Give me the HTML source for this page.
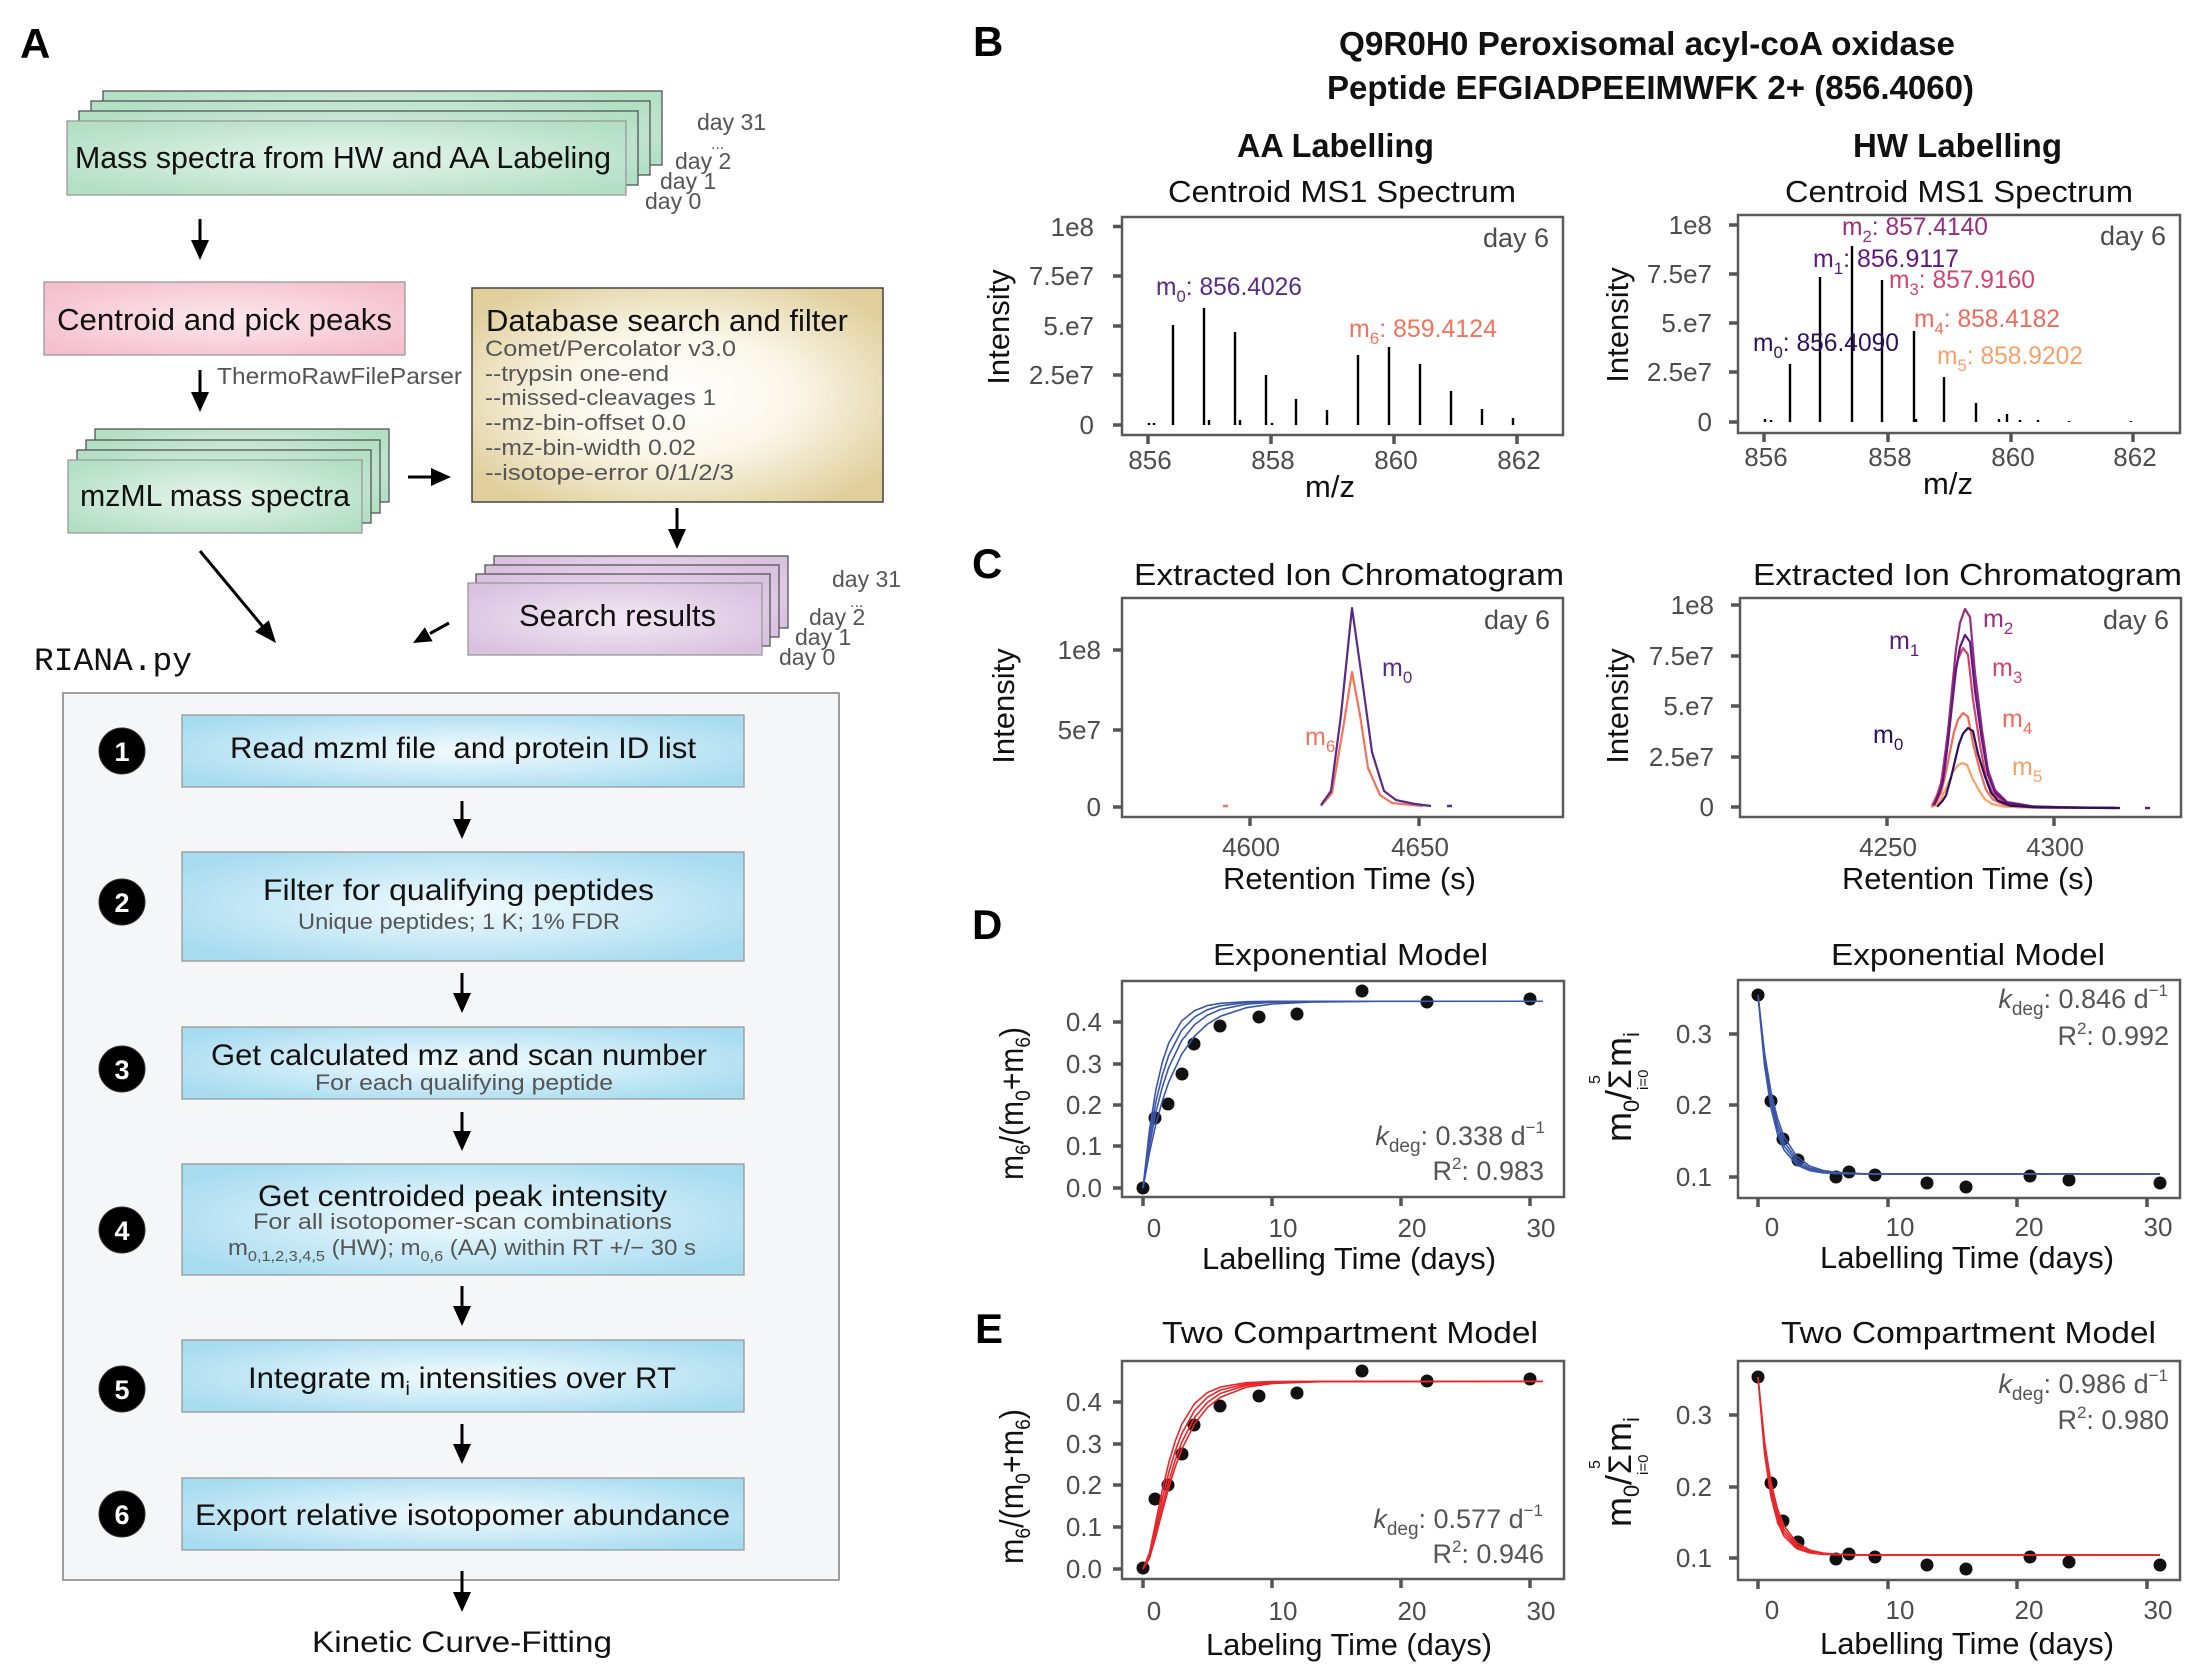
<!DOCTYPE html>
<html><head><meta charset="utf-8"><style>html,body{margin:0;padding:0;background:#fff}svg{display:block}</style></head>
<body>
<svg xmlns="http://www.w3.org/2000/svg" width="2191" height="1676" viewBox="0 0 2191 1676" font-family="'Liberation Sans', Arial, sans-serif">
<defs>
<radialGradient id="gG" cx="0.5" cy="0.5" r="0.62"><stop offset="0" stop-color="#e6f5ec"/><stop offset="1" stop-color="#b3dfc5"/></radialGradient>
<radialGradient id="gP" cx="0.5" cy="0.5" r="0.62"><stop offset="0" stop-color="#fce8ee"/><stop offset="1" stop-color="#f5bfce"/></radialGradient>
<radialGradient id="gT" cx="0.5" cy="0.5" r="0.62"><stop offset="0" stop-color="#ffffff"/><stop offset="0.45" stop-color="#fbf7ea"/><stop offset="1" stop-color="#e0cf9c"/></radialGradient>
<radialGradient id="gV" cx="0.5" cy="0.5" r="0.62"><stop offset="0" stop-color="#f3e9f5"/><stop offset="1" stop-color="#d9c1e0"/></radialGradient>
<radialGradient id="gB" cx="0.5" cy="0.5" r="0.62"><stop offset="0" stop-color="#f3fbfe"/><stop offset="1" stop-color="#a6dbf0"/></radialGradient>
</defs>
<rect x="0" y="0" width="2191" height="1676" fill="#fff"/>

<!-- Panel letters -->
<g font-weight="bold" font-size="42" fill="#000">
<text x="20" y="58">A</text>
<text x="973" y="56">B</text>
<text x="972" y="578">C</text>
<text x="972" y="939">D</text>
<text x="975" y="1343">E</text>
</g>

<!-- ===== PANEL A ===== -->
<g stroke="#555" stroke-width="1.3" fill="url(#gG)">
<rect x="103" y="91" width="559" height="74"/>
<rect x="91" y="101" width="559" height="74"/>
<rect x="79" y="111" width="559" height="74"/>
<rect x="67" y="121" width="559" height="74" stroke="#999"/>
</g>
<text x="75" y="168" font-size="31" textLength="536" lengthAdjust="spacingAndGlyphs" fill="#111">Mass spectra from HW and AA Labeling</text>
<g font-size="23" fill="#555">
<text x="697" y="130">day 31</text>
<text x="711" y="149" font-size="16">...</text>
<text x="675" y="169">day 2</text>
<text x="660" y="189">day 1</text>
<text x="645" y="209">day 0</text>
</g>

<rect x="44" y="282" width="361" height="73" fill="url(#gP)" stroke="#999" stroke-width="1.3"/>
<text x="57" y="330" font-size="31" textLength="335" lengthAdjust="spacingAndGlyphs" fill="#111">Centroid and pick peaks</text>
<text x="217" y="384" font-size="23" fill="#555" textLength="245" lengthAdjust="spacingAndGlyphs">ThermoRawFileParser</text>

<rect x="472" y="288" width="411" height="214" fill="url(#gT)" stroke="#444" stroke-width="1.5"/>
<text x="486" y="331" font-size="31" textLength="362" lengthAdjust="spacingAndGlyphs" fill="#111">Database search and filter</text>
<g font-size="22" fill="#555">
<text x="485" y="356" textLength="251" lengthAdjust="spacingAndGlyphs">Comet/Percolator v3.0</text>
<text x="485" y="381" textLength="184" lengthAdjust="spacingAndGlyphs">--trypsin one-end</text>
<text x="485" y="405" textLength="231" lengthAdjust="spacingAndGlyphs">--missed-cleavages 1</text>
<text x="485" y="430" textLength="201" lengthAdjust="spacingAndGlyphs">--mz-bin-offset 0.0</text>
<text x="485" y="455" textLength="211" lengthAdjust="spacingAndGlyphs">--mz-bin-width 0.02</text>
<text x="485" y="480" textLength="249" lengthAdjust="spacingAndGlyphs">--isotope-error 0/1/2/3</text>
</g>

<g stroke="#555" stroke-width="1.3" fill="url(#gG)">
<rect x="95" y="429" width="294" height="73"/>
<rect x="86" y="440" width="294" height="73"/>
<rect x="77" y="450" width="294" height="73"/>
<rect x="68" y="460" width="294" height="73" stroke="#999"/>
</g>
<text x="80" y="506" font-size="31" textLength="270" lengthAdjust="spacingAndGlyphs" fill="#111">mzML mass spectra</text>

<g stroke="#555" stroke-width="1.3" fill="url(#gV)">
<rect x="494" y="556" width="294" height="72"/>
<rect x="485" y="565" width="294" height="72"/>
<rect x="476" y="574" width="294" height="72"/>
<rect x="468" y="583" width="294" height="72" stroke="#999"/>
</g>
<text x="519" y="626" font-size="31" textLength="197" lengthAdjust="spacingAndGlyphs" fill="#111">Search results</text>
<g font-size="23" fill="#555">
<text x="832" y="587">day 31</text>
<text x="850" y="607" font-size="16">...</text>
<text x="809" y="625">day 2</text>
<text x="795" y="645">day 1</text>
<text x="779" y="665">day 0</text>
</g>

<text x="34" y="670" font-family="'Liberation Mono', monospace" font-size="32" textLength="158" lengthAdjust="spacingAndGlyphs" fill="#111">RIANA.py</text>

<!-- arrows top part -->
<g stroke="#000" stroke-width="3" fill="none">
<line x1="200" y1="219" x2="200" y2="242"/>
<line x1="200" y1="370" x2="200" y2="394"/>
<line x1="408" y1="477" x2="433" y2="477"/>
<line x1="677" y1="508" x2="677" y2="531"/>
<line x1="200" y1="551" x2="264" y2="628"/>
<line x1="449" y1="623" x2="430" y2="633.5"/>
</g>
<g fill="#000">
<polygon points="191,240 209,240 200,260"/>
<polygon points="191,392 209,392 200,412"/>
<polygon points="431,468 431,486 451,477"/>
<polygon points="668,529 686,529 677,549"/>
<polygon points="255.1,631.7 268.9,620.3 276,643"/>
<polygon points="424.8,627.3 432.6,641.3 413,643"/>
</g>

<!-- RIANA box -->
<rect x="63" y="693" width="776" height="887" fill="#f4f6f7" stroke="#888" stroke-width="1.6"/>
<g fill="url(#gB)" stroke="#999" stroke-width="1.3">
<rect x="182" y="715" width="562" height="72"/>
<rect x="182" y="852" width="562" height="109"/>
<rect x="182" y="1027" width="562" height="72"/>
<rect x="182" y="1164" width="562" height="111"/>
<rect x="182" y="1340" width="562" height="72"/>
<rect x="182" y="1478" width="562" height="72"/>
</g>
<g fill="#000" stroke="#333" stroke-width="1">
<circle cx="122" cy="751" r="23"/>
<circle cx="122" cy="902" r="23"/>
<circle cx="122" cy="1069" r="23"/>
<circle cx="122" cy="1230" r="23"/>
<circle cx="122" cy="1389" r="23"/>
<circle cx="122" cy="1514" r="23"/>
</g>
<g fill="#fff" font-weight="bold" font-size="27" text-anchor="middle">
<text x="122" y="761">1</text>
<text x="122" y="912">2</text>
<text x="122" y="1079">3</text>
<text x="122" y="1240">4</text>
<text x="122" y="1399">5</text>
<text x="122" y="1524">6</text>
</g>
<g font-size="30" fill="#111">
<text x="230" y="758" textLength="466" lengthAdjust="spacingAndGlyphs">Read mzml file&#160; and protein ID list</text>
<text x="263" y="900" textLength="391" lengthAdjust="spacingAndGlyphs">Filter for qualifying peptides</text>
<text x="211" y="1065" textLength="496" lengthAdjust="spacingAndGlyphs">Get calculated mz and scan number</text>
<text x="258" y="1206" textLength="409" lengthAdjust="spacingAndGlyphs">Get centroided peak intensity</text>
<text x="248" y="1388" textLength="428" lengthAdjust="spacingAndGlyphs">Integrate m<tspan font-size="19" dy="7">i</tspan><tspan dy="-7"> intensities over RT</tspan></text>
<text x="195" y="1525" textLength="535" lengthAdjust="spacingAndGlyphs">Export relative isotopomer abundance</text>
<text x="312" y="1652" textLength="300" lengthAdjust="spacingAndGlyphs">Kinetic Curve-Fitting</text>
</g>
<g font-size="22" fill="#555">
<text x="298" y="929" textLength="322" lengthAdjust="spacingAndGlyphs">Unique peptides; 1 K; 1% FDR</text>
<text x="315" y="1090" textLength="298" lengthAdjust="spacingAndGlyphs">For each qualifying peptide</text>
<text x="253" y="1229" textLength="419" lengthAdjust="spacingAndGlyphs">For all isotopomer-scan combinations</text>
<text x="228" y="1255" textLength="468" lengthAdjust="spacingAndGlyphs">m<tspan font-size="15" dy="6">0,1,2,3,4,5</tspan><tspan dy="-6"> (HW); m</tspan><tspan font-size="15" dy="6">0,6</tspan><tspan dy="-6"> (AA) within RT +/− 30 s</tspan></text>
</g>
<g stroke="#000" stroke-width="3">
<line x1="462" y1="801" x2="462" y2="821"/>
<line x1="462" y1="973" x2="462" y2="995"/>
<line x1="462" y1="1112" x2="462" y2="1133"/>
<line x1="462" y1="1286" x2="462" y2="1308"/>
<line x1="462" y1="1424" x2="462" y2="1446"/>
<line x1="462" y1="1571" x2="462" y2="1594"/>
</g>
<g fill="#000">
<polygon points="453,819 471,819 462,839"/>
<polygon points="453,993 471,993 462,1013"/>
<polygon points="453,1131 471,1131 462,1151"/>
<polygon points="453,1306 471,1306 462,1326"/>
<polygon points="453,1444 471,1444 462,1464"/>
<polygon points="453,1592 471,1592 462,1612"/>
</g>

<!-- ===== PANEL B ===== -->
<g font-weight="bold" font-size="33" fill="#111">
<text x="1339" y="55" textLength="616" lengthAdjust="spacingAndGlyphs">Q9R0H0 Peroxisomal acyl-coA oxidase</text>
<text x="1327" y="99" textLength="647" lengthAdjust="spacingAndGlyphs">Peptide EFGIADPEEIMWFK 2+ (856.4060)</text>
<text x="1237" y="157" textLength="197" lengthAdjust="spacingAndGlyphs">AA Labelling</text>
<text x="1853" y="157" textLength="209" lengthAdjust="spacingAndGlyphs">HW Labelling</text>
</g>
<g font-size="31" fill="#111">
<text x="1168" y="202" textLength="348" lengthAdjust="spacingAndGlyphs">Centroid MS1 Spectrum</text>
<text x="1785" y="202" textLength="348" lengthAdjust="spacingAndGlyphs">Centroid MS1 Spectrum</text>
<text x="1330" y="497" text-anchor="middle">m/z</text>
<text x="1948" y="494" text-anchor="middle">m/z</text>
<text transform="translate(1009,327) rotate(-90)" text-anchor="middle">Intensity</text>
<text transform="translate(1628,325) rotate(-90)" text-anchor="middle">Intensity</text>
</g>
<g fill="none" stroke="#5a5a5a" stroke-width="2.5">
<rect x="1122" y="217" width="441" height="218"/>
<rect x="1738" y="215" width="442" height="218"/>
</g>
<g stroke="#555" stroke-width="3.5">
<path d="M1113 226.5H1122M1113 276H1122M1113 326H1122M1113 375H1122M1113 425H1122"/>
<path d="M1148 435V444M1271 435V444M1394 435V444M1517 435V444"/>
<path d="M1729 225H1738M1729 274H1738M1729 323H1738M1729 372H1738M1729 422H1738"/>
<path d="M1764 433V442M1888 433V442M2011 433V442M2133 433V442"/>
</g>
<g font-size="26" fill="#4d4d4d">
<g text-anchor="end">
<text x="1094" y="236">1e8</text>
<text x="1094" y="285">7.5e7</text>
<text x="1094" y="335">5.e7</text>
<text x="1094" y="384">2.5e7</text>
<text x="1094" y="434">0</text>
<text x="1712" y="234">1e8</text>
<text x="1712" y="283">7.5e7</text>
<text x="1712" y="332">5.e7</text>
<text x="1712" y="381">2.5e7</text>
<text x="1712" y="431">0</text>
<text x="1549" y="247" font-size="27">day 6</text>
<text x="2166" y="245" font-size="27">day 6</text>
</g>
<g text-anchor="middle">
<text x="1150" y="469">856</text>
<text x="1273" y="469">858</text>
<text x="1396" y="469">860</text>
<text x="1519" y="469">862</text>
<text x="1766" y="466">856</text>
<text x="1890" y="466">858</text>
<text x="2013" y="466">860</text>
<text x="2135" y="466">862</text>
</g>
</g>
<g stroke="#000" stroke-width="2.4">
<path d="M1173 425V325M1204 425V308M1235 425V332M1266 425V375M1296 425V399M1327 425V410M1358 425V355M1389 425V347M1420 425V364M1451 425V391M1482 425V409M1513 425V418"/>
<path d="M1209 425V420M1240 425V420M1272 425V423M1149 425V423M1154 425V423"/>
<path d="M1790 422V364M1820 422V277M1852 422V246M1882 422V280M1914 422V331M1944 422V377M1976 422V403M2007 422V414"/>
<path d="M1765 422V419M1771 422V420M1916 422V419M1999 422V419M2020 422V420M2038 422V420M2069 422V421M2131 422V421"/>
</g>
<g font-size="25">
<text x="1156" y="295" fill="#5b2a86" textLength="146" lengthAdjust="spacingAndGlyphs">m<tspan font-size="17" dy="7">0</tspan><tspan dy="-7">: 856.4026</tspan></text>
<text x="1349" y="337" fill="#f4735a" textLength="148" lengthAdjust="spacingAndGlyphs">m<tspan font-size="17" dy="7">6</tspan><tspan dy="-7">: 859.4124</tspan></text>
<text x="1842" y="235" fill="#982d80" textLength="146" lengthAdjust="spacingAndGlyphs">m<tspan font-size="17" dy="7">2</tspan><tspan dy="-7">: 857.4140</tspan></text>
<text x="1813" y="267" fill="#5f187f" textLength="146" lengthAdjust="spacingAndGlyphs">m<tspan font-size="17" dy="7">1</tspan><tspan dy="-7">: 856.9117</tspan></text>
<text x="1889" y="288" fill="#d3436e" textLength="146" lengthAdjust="spacingAndGlyphs">m<tspan font-size="17" dy="7">3</tspan><tspan dy="-7">: 857.9160</tspan></text>
<text x="1914" y="327" fill="#f06a5a" textLength="146" lengthAdjust="spacingAndGlyphs">m<tspan font-size="17" dy="7">4</tspan><tspan dy="-7">: 858.4182</tspan></text>
<text x="1753" y="351" fill="#2c115f" textLength="146" lengthAdjust="spacingAndGlyphs">m<tspan font-size="17" dy="7">0</tspan><tspan dy="-7">: 856.4090</tspan></text>
<text x="1937" y="364" fill="#f9a066" textLength="146" lengthAdjust="spacingAndGlyphs">m<tspan font-size="17" dy="7">5</tspan><tspan dy="-7">: 858.9202</tspan></text>
</g>

<!-- ===== PANEL C ===== -->
<g font-size="31" fill="#111">
<text x="1134" y="585" textLength="430" lengthAdjust="spacingAndGlyphs">Extracted Ion Chromatogram</text>
<text x="1753" y="585" textLength="429" lengthAdjust="spacingAndGlyphs">Extracted Ion Chromatogram</text>
<text x="1223" y="889" textLength="253" lengthAdjust="spacingAndGlyphs">Retention Time (s)</text>
<text x="1842" y="889" textLength="252" lengthAdjust="spacingAndGlyphs">Retention Time (s)</text>
<text transform="translate(1014,706) rotate(-90)" text-anchor="middle">Intensity</text>
<text transform="translate(1628,706) rotate(-90)" text-anchor="middle">Intensity</text>
</g>
<g fill="none" stroke="#5a5a5a" stroke-width="2.5">
<rect x="1122" y="598" width="441" height="219"/>
<rect x="1740" y="598" width="441" height="219"/>
</g>
<g stroke="#555" stroke-width="3.5">
<path d="M1113 650H1122M1113 730H1122M1113 807H1122"/>
<path d="M1250 817V826M1419 817V826"/>
<path d="M1731 605H1740M1731 656H1740M1731 706H1740M1731 757H1740M1731 807H1740"/>
<path d="M1887 817V826M2054 817V826"/>
</g>
<g font-size="26" fill="#4d4d4d">
<g text-anchor="end">
<text x="1101" y="659">1e8</text>
<text x="1101" y="739">5e7</text>
<text x="1101" y="816">0</text>
<text x="1714" y="614">1e8</text>
<text x="1714" y="665">7.5e7</text>
<text x="1714" y="715">5.e7</text>
<text x="1714" y="766">2.5e7</text>
<text x="1714" y="816">0</text>
<text x="1550" y="629" font-size="27">day 6</text>
<text x="2169" y="629" font-size="27">day 6</text>
</g>
<g text-anchor="middle">
<text x="1251" y="856">4600</text>
<text x="1420" y="856">4650</text>
<text x="1888" y="856">4250</text>
<text x="2055" y="856">4300</text>
</g>
</g>
<g fill="none" stroke-width="2.2" stroke-linejoin="round">
<polyline stroke="#f4735a" points="1321,806 1332,793 1343,729 1352,672 1360,715 1368,768 1380,795 1392,803 1423,806"/>
<polyline stroke="#5b2a86" points="1321,805 1331,791 1341,715 1352,608 1362,679 1372,752 1384,791 1396,800 1415,804 1431,806"/>
<polyline stroke="#f9a066" points="1931,807.3 1936,804.4 1940,801 1945,790.9 1949,781.3 1953,772 1957,766.2 1962,763 1967,764.8 1972,777.5 1979,790.4 1985,799.4 1992,804 2004,806.7 2030,807.6 2062,807.8 2114,808"/>
<polyline stroke="#f06a5a" points="1932,806.6 1937,800.4 1941,793.2 1946,771.9 1950,751.7 1954,732 1958,719.7 1963,713 1968,716.8 1973,743.6 1980,770.8 1986,789.9 1993,799.5 2005,805.2 2031,807.2 2063,807.6 2115,808"/>
<polyline stroke="#d3436e" points="1932,805.6 1937,795.2 1941,783 1946,747.2 1950,713.1 1954,680 1958,659.2 1963,648 1968,654.4 1973,699.5 1980,745.3 1986,777.4 1993,793.6 2005,803.2 2031,806.7 2063,807.4 2115,808"/>
<polyline stroke="#982d80" points="1934,805 1939,792 1943,777 1948,732 1952,690 1956,649 1960,623 1965,609 1970,617 1975,673 1982,730 1988,770 1995,790 2007,802 2033,806.4 2065,807.2 2117,808"/>
<polyline stroke="#5f187f" points="1934,805.4 1939,794.2 1943,781 1948,742.3 1952,705.4 1956,669.6 1960,647.1 1965,635 1970,641.9 1975,690.7 1982,740.2 1988,775 1995,792.4 2007,802.8 2033,806.6 2065,807.3 2117,808"/>
<polyline stroke="#2c115f" points="1937,806.8 1942,801.6 1946,795.5 1951,777.6 1955,760.6 1959,744 1963,733.6 1968,728 1973,731.2 1978,753.8 1985,776.6 1991,792.7 1998,800.8 2010,805.6 2036,807.4 2068,807.7 2120,808"/>
</g>
<path d="M1223 806H1228" stroke="#f4735a" stroke-width="2.5"/>
<path d="M1447 806H1452" stroke="#5b2a86" stroke-width="2.5"/>
<path d="M2145 808H2150" stroke="#5f187f" stroke-width="2.5"/>
<g font-size="25">
<text x="1382" y="676" fill="#5b2a86">m<tspan font-size="17" dy="7">0</tspan></text>
<text x="1305" y="745" fill="#f4735a">m<tspan font-size="17" dy="7">6</tspan></text>
<text x="1983" y="627" fill="#982d80">m<tspan font-size="17" dy="7">2</tspan></text>
<text x="1889" y="649" fill="#5f187f">m<tspan font-size="17" dy="7">1</tspan></text>
<text x="1992" y="676" fill="#d3436e">m<tspan font-size="17" dy="7">3</tspan></text>
<text x="2002" y="727" fill="#f06a5a">m<tspan font-size="17" dy="7">4</tspan></text>
<text x="1873" y="743" fill="#2c115f">m<tspan font-size="17" dy="7">0</tspan></text>
<text x="2012" y="775" fill="#f9a066">m<tspan font-size="17" dy="7">5</tspan></text>
</g>

<!-- ===== PANEL D ===== -->
<g font-size="31" fill="#111">
<text x="1213" y="965" textLength="275" lengthAdjust="spacingAndGlyphs">Exponential Model</text>
<text x="1831" y="965" textLength="274" lengthAdjust="spacingAndGlyphs">Exponential Model</text>
<text x="1202" y="1269" textLength="294" lengthAdjust="spacingAndGlyphs">Labelling Time (days)</text>
<text x="1820" y="1268" textLength="294" lengthAdjust="spacingAndGlyphs">Labelling Time (days)</text>
<text x="1162" y="1343" textLength="376" lengthAdjust="spacingAndGlyphs">Two Compartment Model</text>
<text x="1781" y="1343" textLength="375" lengthAdjust="spacingAndGlyphs">Two Compartment Model</text>
<text x="1206" y="1655" textLength="286" lengthAdjust="spacingAndGlyphs">Labeling Time (days)</text>
<text x="1820" y="1654" textLength="294" lengthAdjust="spacingAndGlyphs">Labelling Time (days)</text>
</g>
<g fill="none" stroke="#5a5a5a" stroke-width="2.5">
<rect x="1122" y="981" width="442" height="216"/>
<rect x="1738" y="980" width="442" height="218"/>
<rect x="1122" y="1361" width="442" height="218"/>
<rect x="1738" y="1361" width="442" height="219"/>
</g>
<g stroke="#555" stroke-width="3.5">
<path d="M1113 1022H1122M1113 1064H1122M1113 1105H1122M1113 1146H1122M1113 1188H1122"/>
<path d="M1143 1197V1206M1272 1197V1206M1401 1197V1206M1530 1197V1206"/>
<path d="M1729 1034H1738M1729 1105H1738M1729 1177H1738"/>
<path d="M1758 1198V1207M1888 1198V1207M2017 1198V1207M2147 1198V1207"/>
<path d="M1113 1402H1122M1113 1444H1122M1113 1485H1122M1113 1527H1122M1113 1569H1122"/>
<path d="M1143 1579V1588M1272 1579V1588M1401 1579V1588M1530 1579V1588"/>
<path d="M1729 1415H1738M1729 1487H1738M1729 1558H1738"/>
<path d="M1758 1580V1589M1888 1580V1589M2017 1580V1589M2147 1580V1589"/>
</g>
<g font-size="26" fill="#4d4d4d">
<g text-anchor="end">
<text x="1102" y="1031">0.4</text>
<text x="1102" y="1073">0.3</text>
<text x="1102" y="1114">0.2</text>
<text x="1102" y="1155">0.1</text>
<text x="1102" y="1197">0.0</text>
<text x="1712" y="1043">0.3</text>
<text x="1712" y="1114">0.2</text>
<text x="1712" y="1186">0.1</text>
<text x="1102" y="1411">0.4</text>
<text x="1102" y="1453">0.3</text>
<text x="1102" y="1494">0.2</text>
<text x="1102" y="1536">0.1</text>
<text x="1102" y="1578">0.0</text>
<text x="1712" y="1424">0.3</text>
<text x="1712" y="1496">0.2</text>
<text x="1712" y="1567">0.1</text>
</g>
<g text-anchor="middle">
<text x="1154" y="1237">0</text>
<text x="1283" y="1237">10</text>
<text x="1412" y="1237">20</text>
<text x="1541" y="1237">30</text>
<text x="1772" y="1236">0</text>
<text x="1900" y="1236">10</text>
<text x="2029" y="1236">20</text>
<text x="2158" y="1236">30</text>
<text x="1154" y="1620">0</text>
<text x="1283" y="1620">10</text>
<text x="1412" y="1620">20</text>
<text x="1541" y="1620">30</text>
<text x="1772" y="1619">0</text>
<text x="1900" y="1619">10</text>
<text x="2029" y="1619">20</text>
<text x="2158" y="1619">30</text>
</g>
</g>

<!-- y axis labels D/E left -->
<g font-size="33" fill="#111">
<text transform="translate(1023,1180) rotate(-90)" textLength="153" lengthAdjust="spacingAndGlyphs">m<tspan font-size="21" dy="7">6</tspan><tspan dy="-7">/(m</tspan><tspan font-size="21" dy="7">0</tspan><tspan dy="-7">+m</tspan><tspan font-size="21" dy="7">6</tspan><tspan dy="-7">)</tspan></text>
<text transform="translate(1023,1564) rotate(-90)" textLength="155" lengthAdjust="spacingAndGlyphs">m<tspan font-size="21" dy="7">6</tspan><tspan dy="-7">/(m</tspan><tspan font-size="21" dy="7">0</tspan><tspan dy="-7">+m</tspan><tspan font-size="21" dy="7">6</tspan><tspan dy="-7">)</tspan></text>
</g>
<!-- y axis labels D/E right -->
<g fill="#111" transform="translate(1631,1142) rotate(-90)">
<text x="0" y="0" font-size="36">m</text>
<text x="30" y="8" font-size="22">0</text>
<text x="42" y="0" font-size="36">/</text>
<text x="53" y="0" font-size="32">Σ</text>
<text x="58" y="-31" font-size="16">5</text>
<text x="52" y="17" font-size="15">i=0</text>
<text x="75" y="0" font-size="36">m</text>
<text x="105" y="8" font-size="22">i</text>
</g>
<g fill="#111" transform="translate(1631,1527) rotate(-90)">
<text x="0" y="0" font-size="36">m</text>
<text x="30" y="8" font-size="22">0</text>
<text x="42" y="0" font-size="36">/</text>
<text x="53" y="0" font-size="32">Σ</text>
<text x="58" y="-31" font-size="16">5</text>
<text x="52" y="17" font-size="15">i=0</text>
<text x="75" y="0" font-size="36">m</text>
<text x="105" y="8" font-size="22">i</text>
</g>

<!-- points -->
<g fill="#111">
<circle cx="1143" cy="1188" r="6.5"/><circle cx="1155" cy="1118" r="6.5"/><circle cx="1168" cy="1104" r="6.5"/><circle cx="1182" cy="1074" r="6.5"/><circle cx="1194" cy="1044" r="6.5"/><circle cx="1220" cy="1026" r="6.5"/><circle cx="1259" cy="1017" r="6.5"/><circle cx="1297" cy="1014" r="6.5"/><circle cx="1362" cy="991" r="6.5"/><circle cx="1427" cy="1002" r="6.5"/><circle cx="1530" cy="999" r="6.5"/>
<circle cx="1758" cy="995" r="6.5"/><circle cx="1771" cy="1101" r="6.5"/><circle cx="1783" cy="1139" r="6.5"/><circle cx="1798" cy="1160" r="6.5"/><circle cx="1836" cy="1177" r="6.5"/><circle cx="1849" cy="1172" r="6.5"/><circle cx="1875" cy="1175" r="6.5"/><circle cx="1927" cy="1183" r="6.5"/><circle cx="1966" cy="1187" r="6.5"/><circle cx="2030" cy="1176" r="6.5"/><circle cx="2069" cy="1180" r="6.5"/><circle cx="2160" cy="1183" r="6.5"/>
<circle cx="1143" cy="1568" r="6.5"/><circle cx="1155" cy="1499" r="6.5"/><circle cx="1168" cy="1485" r="6.5"/><circle cx="1182" cy="1454" r="6.5"/><circle cx="1194" cy="1425" r="6.5"/><circle cx="1220" cy="1406" r="6.5"/><circle cx="1259" cy="1396" r="6.5"/><circle cx="1297" cy="1393" r="6.5"/><circle cx="1362" cy="1371" r="6.5"/><circle cx="1427" cy="1381" r="6.5"/><circle cx="1530" cy="1379" r="6.5"/>
<circle cx="1758" cy="1377" r="6.5"/><circle cx="1771" cy="1483" r="6.5"/><circle cx="1783" cy="1521" r="6.5"/><circle cx="1798" cy="1542" r="6.5"/><circle cx="1836" cy="1559" r="6.5"/><circle cx="1849" cy="1554" r="6.5"/><circle cx="1875" cy="1557" r="6.5"/><circle cx="1927" cy="1565" r="6.5"/><circle cx="1966" cy="1569" r="6.5"/><circle cx="2030" cy="1557" r="6.5"/><circle cx="2069" cy="1562" r="6.5"/><circle cx="2160" cy="1565" r="6.5"/>
</g>

<!-- curves D (blue) -->
<g fill="none" stroke="#3a56a8" stroke-width="1.6" stroke-linejoin="round">
<polyline points="1143,1188 1149.5,1152.6 1155.9,1124 1162.4,1100.7 1168.8,1081.9 1181.7,1054.2 1194.6,1036.1 1207.5,1024.1 1220.4,1016.3 1246.2,1007.7 1272,1004 1310.7,1002.1 1375.2,1001.3 1543,1001.25"/>
<polyline points="1143,1188 1149.5,1145.3 1155.9,1112.3 1162.4,1086.9 1168.8,1067.3 1181.7,1040.5 1194.6,1024.6 1207.5,1015.1 1220.4,1009.5 1246.2,1004.2 1272,1002.3 1310.7,1001.5 1375.2,1001.25 1543,1001.25"/>
<polyline points="1143,1188 1149.5,1138.2 1155.9,1101.7 1162.4,1075 1168.8,1055.3 1181.7,1030.3 1194.6,1016.9 1207.5,1009.7 1220.4,1005.8 1246.2,1002.6 1272,1001.6 1310.7,1001.3 1375.2,1001.25 1543,1001.25"/>
<polyline points="1143,1188 1149.5,1129.6 1155.9,1089.5 1162.4,1061.9 1168.8,1042.9 1181.7,1020.9 1194.6,1010.6 1207.5,1005.6 1220.4,1003.3 1246.2,1001.7 1272,1001.3 1310.7,1001.25 1543,1001.25"/>
<polyline points="1758,995 1764.5,1052.8 1771,1091.9 1777.5,1118.4 1783.9,1136.4 1796.9,1156.8 1809.9,1166.1 1822.9,1170.4 1835.8,1172.3 1861.8,1173.7 1887.7,1173.9 2160,1174"/>
<polyline points="1758,995 1764.5,1057 1771,1097.5 1777.5,1124 1783.9,1141.3 1796.9,1160 1809.9,1168 1822.9,1171.4 1835.8,1172.9 1861.8,1173.8 1887.7,1174 2160,1174"/>
<polyline points="1758,995 1764.5,1061 1771,1102.7 1777.5,1129 1783.9,1145.6 1796.9,1162.7 1809.9,1169.5 1822.9,1172.2 1835.8,1173.3 1861.8,1173.9 1887.7,1174 2160,1174"/>
<polyline points="1758,995 1764.5,1065.4 1771,1108.1 1777.5,1134.1 1783.9,1149.8 1796.9,1165.1 1809.9,1170.7 1822.9,1172.8 1835.8,1173.6 1861.8,1174 1887.7,1174 2160,1174"/>
</g>
<!-- curves E (red) -->
<g fill="none" stroke="#e8262a" stroke-width="1.6" stroke-linejoin="round">
<polyline points="1143,1569 1149.5,1558.3 1155.9,1536.1 1162.4,1511.1 1168.8,1487.5 1175.3,1466.8 1181.7,1449.4 1194.6,1423.8 1207.5,1407.4 1220.4,1397.3 1246.2,1387.2 1272,1383.5 1323.6,1381.6 1543,1381.35"/>
<polyline points="1143,1569 1149.5,1557.2 1155.9,1532.8 1162.4,1506.1 1168.8,1481.3 1175.3,1459.9 1181.7,1442.4 1194.6,1417.5 1207.5,1402.3 1220.4,1393.4 1246.2,1385.3 1272,1382.6 1323.6,1381.4 1543,1381.35"/>
<polyline points="1143,1569 1149.5,1555.2 1155.9,1527.7 1162.4,1498.6 1168.8,1472.4 1175.3,1450.8 1181.7,1433.8 1194.6,1410.4 1207.5,1397.2 1220.4,1390 1246.2,1384 1272,1382.1 1323.6,1381.4 1543,1381.35"/>
<polyline points="1143,1569 1149.5,1552.7 1155.9,1521.4 1162.4,1489.7 1168.8,1462.5 1175.3,1440.9 1181.7,1424.5 1194.6,1403.5 1207.5,1392.5 1220.4,1387.1 1246.2,1382.7 1272,1381.5 1323.6,1381.35 1543,1381.35"/>
<polyline points="1758,1377 1764.5,1441.5 1771,1482.6 1777.5,1508.9 1783.9,1525.6 1796.9,1543 1809.9,1550.1 1822.9,1553 1835.8,1554.2 1861.8,1554.9 2160,1555"/>
<polyline points="1758,1377 1764.5,1445.4 1771,1487.5 1777.5,1513.5 1783.9,1529.4 1796.9,1545.3 1809.9,1551.3 1822.9,1553.6 1835.8,1554.5 1861.8,1555 2160,1555"/>
<polyline points="1758,1377 1764.5,1449.2 1771,1492.1 1777.5,1517.6 1783.9,1532.8 1796.9,1547.1 1809.9,1552.2 1822.9,1554 1835.8,1554.6 1861.8,1555 2160,1555"/>
<polyline points="1758,1377 1764.5,1453.3 1771,1496.9 1777.5,1521.8 1783.9,1536 1796.9,1548.8 1809.9,1553 1822.9,1554.3 1835.8,1554.7 1861.8,1555 2160,1555"/>
</g>

<!-- kdeg annotations -->
<g font-size="27" fill="#555" text-anchor="end">
<text x="1545" y="1145"><tspan font-style="italic">k</tspan><tspan font-size="19" dy="7">deg</tspan><tspan dy="-7">: 0.338 d</tspan><tspan font-size="17" dy="-12">−1</tspan></text>
<text x="1544" y="1180">R<tspan font-size="17" dy="-11">2</tspan><tspan dy="11">: 0.983</tspan></text>
<text x="2168" y="1008"><tspan font-style="italic">k</tspan><tspan font-size="19" dy="7">deg</tspan><tspan dy="-7">: 0.846 d</tspan><tspan font-size="17" dy="-12">−1</tspan></text>
<text x="2169" y="1045">R<tspan font-size="17" dy="-11">2</tspan><tspan dy="11">: 0.992</tspan></text>
<text x="1543" y="1528"><tspan font-style="italic">k</tspan><tspan font-size="19" dy="7">deg</tspan><tspan dy="-7">: 0.577 d</tspan><tspan font-size="17" dy="-12">−1</tspan></text>
<text x="1544" y="1563">R<tspan font-size="17" dy="-11">2</tspan><tspan dy="11">: 0.946</tspan></text>
<text x="2168" y="1393"><tspan font-style="italic">k</tspan><tspan font-size="19" dy="7">deg</tspan><tspan dy="-7">: 0.986 d</tspan><tspan font-size="17" dy="-12">−1</tspan></text>
<text x="2169" y="1429">R<tspan font-size="17" dy="-11">2</tspan><tspan dy="11">: 0.980</tspan></text>
</g>
</svg>
</body></html>
